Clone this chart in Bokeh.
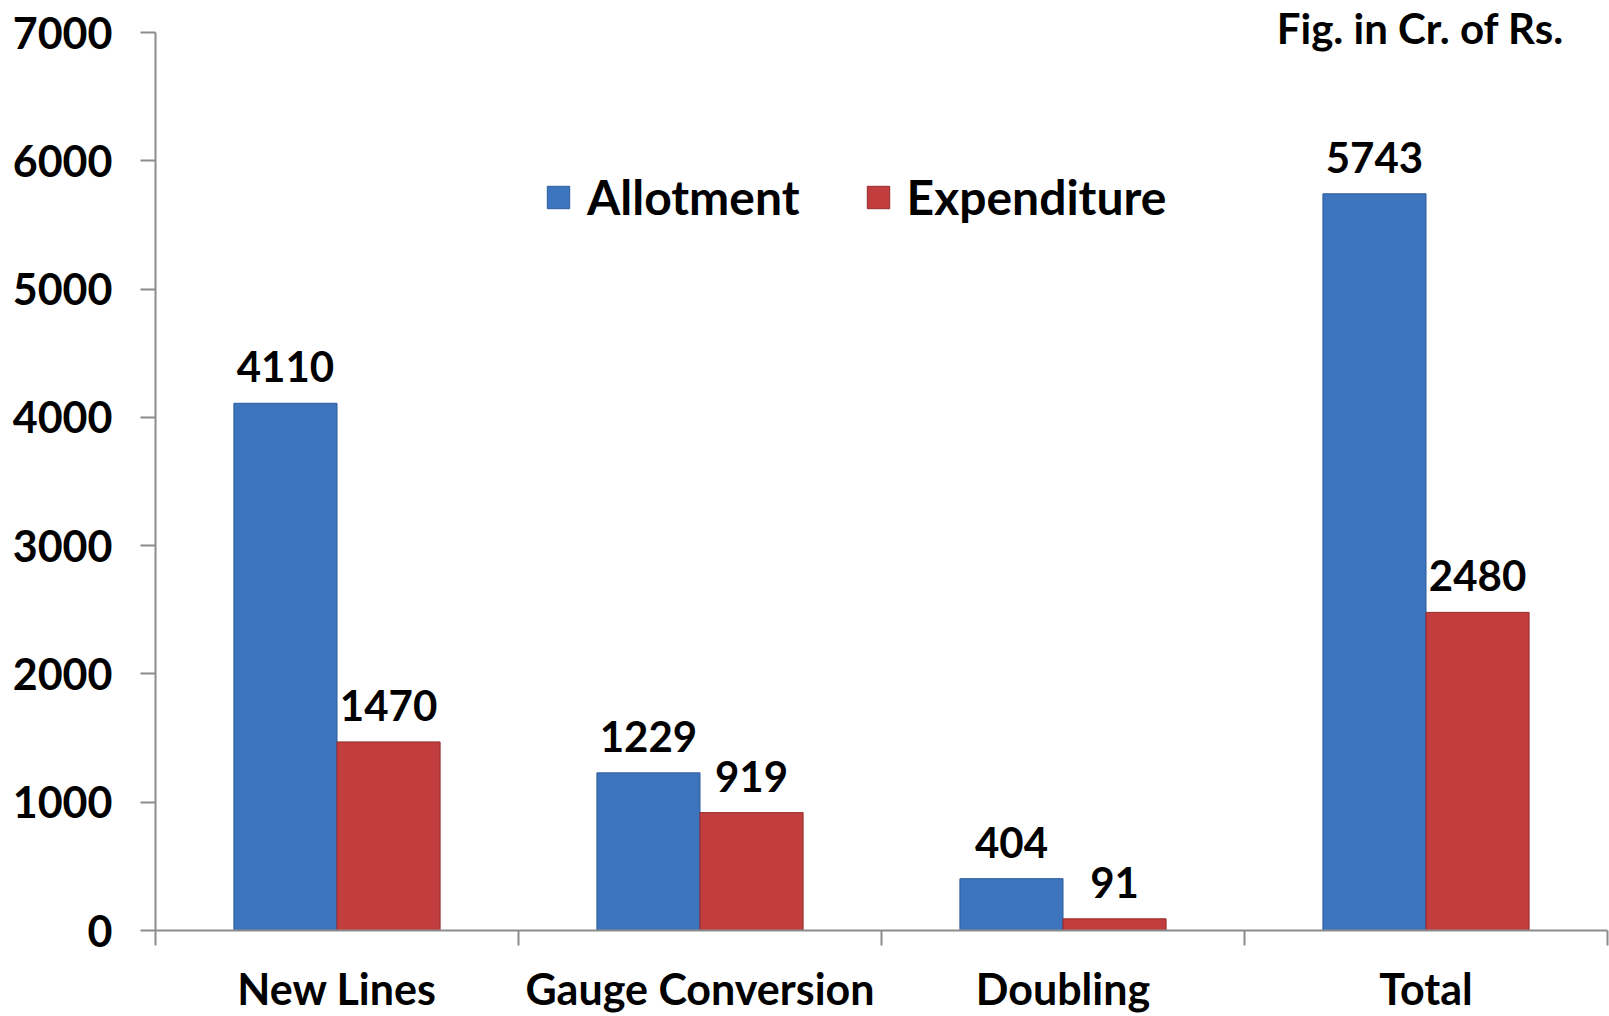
import numpy as np
from bokeh.plotting import figure
from bokeh.models import (Range1d, FixedTicker, Legend, LegendItem, Label,
                          ColumnDataSource)
from bokeh.core.properties import value
from bokeh.embed import file_html
from bokeh.resources import INLINE

# ---- data -------------------------------------------------------------
categories = ["New Lines", "Gauge Conversion", "Doubling", "Total"]
allotment = [4110, 1229, 404, 5743]
expenditure = [1470, 919, 91, 2480]
y_ticks = [0, 1000, 2000, 3000, 4000, 5000, 6000, 7000]
series_names = ["Allotment", "Expenditure"]
unit_note = "Fig. in Cr. of Rs."

# ---- style ------------------------------------------------------------
FONT = "Lato"
BLUE = "#3c74be"
BLUE_EDGE = "#2d5c9c"
RED = "#c23d3d"
RED_EDGE = "#962b2b"
AXIS = "#8c8c8c"
BAR_W = 0.284
Y_HEADROOM = 250   # space above the last tick (axis line stops at last tick)

n = len(categories)
centers = np.arange(n)
src = ColumnDataSource(dict(
    xa=centers - BAR_W / 2, xe=centers + BAR_W / 2,
    a=allotment, e=expenditure,
    la=[str(v) for v in allotment], le=[str(v) for v in expenditure],
))

p = figure(width=1609, height=1016,
           x_range=Range1d(-0.5, n - 0.5),
           y_range=Range1d(y_ticks[0], y_ticks[-1] + Y_HEADROOM),
           output_backend="svg", toolbar_location=None,
           min_border_left=155, min_border_top=0, min_border_bottom=86,
           min_border_right=2)
p.outline_line_color = None
p.xgrid.visible = False
p.ygrid.visible = False
p.background_fill_color = "white"

ra = p.vbar(x="xa", top="a", width=BAR_W, source=src,
            fill_color=BLUE, line_color=BLUE_EDGE, line_width=1)
re_ = p.vbar(x="xe", top="e", width=BAR_W, source=src,
             fill_color=RED, line_color=RED_EDGE, line_width=1)

for xcol, ycol, tcol in (("xa", "a", "la"), ("xe", "e", "le")):
    p.text(x=xcol, y=ycol, text=tcol, source=src,
           text_align="center", text_baseline="bottom", y_offset=-21,
           text_font=value(FONT), text_font_style="bold",
           text_font_size="42px", text_color="black")

# y axis (line limited to the tick span)
ya = p.yaxis[0]
ya.ticker = FixedTicker(ticks=y_ticks)
ya.bounds = (y_ticks[0], y_ticks[-1])
ya.axis_line_color = AXIS
ya.axis_line_width = 2
ya.major_tick_line_color = AXIS
ya.major_tick_line_width = 2
ya.major_tick_in = 0
ya.major_tick_out = 15
ya.minor_tick_line_color = None
ya.major_label_standoff = 28
ya.major_label_text_font = FONT
ya.major_label_text_font_style = "bold"
ya.major_label_text_font_size = "43px"
ya.major_label_text_color = "black"

# x axis: labels at centres, ticks at boundaries
xa = p.xaxis[0]
xa.ticker = FixedTicker(ticks=[int(c) for c in centers],
                        minor_ticks=[float(c) - 0.5 for c in centers] + [n - 0.5])
xa.major_label_overrides = {int(c): name for c, name in zip(centers, categories)}
xa.axis_line_color = AXIS
xa.axis_line_width = 2
xa.major_tick_line_color = None
xa.major_tick_in = 0
xa.major_tick_out = 0
xa.minor_tick_line_color = AXIS
xa.minor_tick_line_width = 2
xa.minor_tick_in = 0
xa.minor_tick_out = 15
xa.major_label_standoff = 17
xa.major_label_text_line_height = 1.0
xa.major_label_text_font = FONT
xa.major_label_text_font_style = "bold"
xa.major_label_text_font_size = "43px"
xa.major_label_text_color = "black"

legend = Legend(items=[LegendItem(label=series_names[0], renderers=[ra]),
                       LegendItem(label=series_names[1], renderers=[re_])],
                orientation="horizontal", location=(389, 705),
                label_text_font=FONT, label_text_font_style="bold",
                label_text_font_size="48px", label_text_color="black",
                glyph_width=28, glyph_height=28, label_standoff=15,
                spacing=64, padding=0, margin=0,
                border_line_color=None, background_fill_alpha=0)
p.add_layout(legend)

p.add_layout(Label(x=n - 0.5 - 0.12, y=y_ticks[-1] + 35, text=unit_note,
                   text_align="right", text_baseline="middle",
                   text_font=FONT, text_font_style="bold",
                   text_font_size="42px", text_color="black"))

open("out.html", "w").write(file_html(p, INLINE))
